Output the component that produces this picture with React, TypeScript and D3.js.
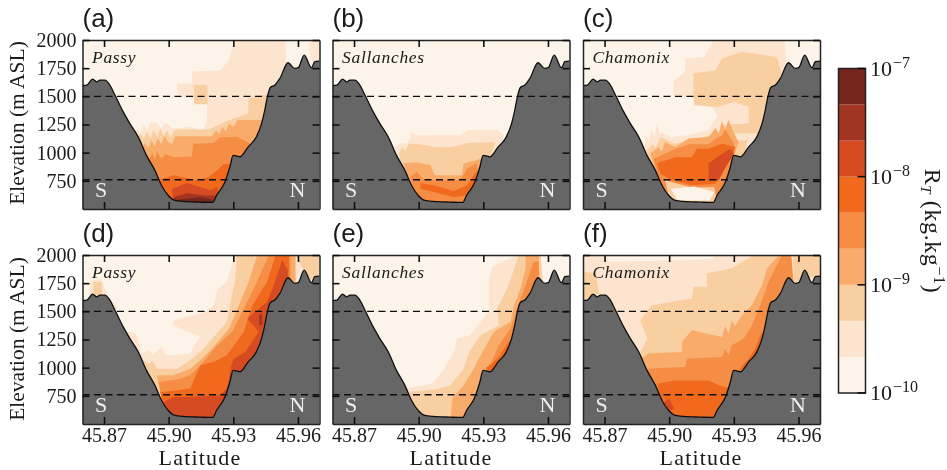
import React, { useRef, useEffect } from "react";
import * as d3 from "d3";

const SERIF = "'Liberation Serif', serif";

// R_T classes, one colour per third of a decade
const levelColors = ["#fdf4e9", "#fce4ce", "#f9cfa2", "#f9ac6b", "#f68d45", "#f0691f", "#d74b23", "#a13421", "#76281a"];
const latTicks = [45.87, 45.9, 45.93, 45.96];
const elevTicks = [750, 1000, 1250, 1500, 1750, 2000];
const dashedElevs = [1500, 760];
const cbarTicks = [-10, -9, -8, -7];

// valley floor and walls along the cross section [lat, elevation]
const terrain = [
  [45.86, 1596], [45.862, 1600], [45.8647, 1653], [45.8666, 1629], [45.8681, 1644], [45.8704, 1644],
  [45.8724, 1608], [45.8751, 1510], [45.8789, 1362], [45.882, 1258], [45.8859, 1139], [45.8897, 976],
  [45.8936, 843], [45.8967, 709], [45.8998, 620], [45.9029, 576], [45.9067, 567], [45.9145, 561],
  [45.9204, 558], [45.9222, 620], [45.9261, 739], [45.9284, 873], [45.9299, 976], [45.9318, 970],
  [45.933, 962], [45.9369, 1051], [45.9407, 1140], [45.9431, 1258], [45.9446, 1377], [45.9458, 1496],
  [45.9472, 1579], [45.9493, 1600], [45.9516, 1659], [45.9554, 1798], [45.9585, 1748], [45.9601, 1754],
  [45.9629, 1866], [45.9663, 1754], [45.9678, 1807], [45.97, 1813],
];

// painted in order, the terrain then covers whatever runs under the ground
const layersA = [
  [1, [[45.9302, 2000], [45.9542, 2000], [45.955, 1640], [45.9457, 1170], [45.9302, 520], [45.8992, 520], [45.8837, 1110], [45.8855, 1230], [45.8866, 1175], [45.8884, 1250], [45.8898, 1200], [45.8915, 1270], [45.8946, 1260], [45.8965, 1215], [45.8985, 1265], [45.9023, 1210], [45.91, 1230], [45.9162, 1200], [45.9178, 1290], [45.9178, 1430], [45.9039, 1525], [45.9039, 1615], [45.9108, 1615], [45.9108, 1720], [45.924, 1730], [45.9279, 1820]]],
  [1, [[45.965, 2000], [45.97, 2000], [45.97, 1790], [45.9659, 1820]]],
  [2, [[45.8852, 1110], [45.8868, 1170], [45.8884, 1120], [45.8899, 1190], [45.8915, 1130], [45.893, 1200], [45.8946, 1140], [45.8961, 1215], [45.8977, 1150], [45.8992, 1195], [45.9008, 1140], [45.9031, 1205], [45.9186, 1205], [45.927, 1280], [45.937, 1350], [45.937, 1480], [45.947, 1525], [45.9488, 1170], [45.9302, 520], [45.8992, 520]]],
  [2, [[45.9118, 1600], [45.918, 1600], [45.918, 1430], [45.9118, 1430]]],
  [3, [[45.8876, 1035], [45.889, 1090], [45.8905, 1040], [45.892, 1110], [45.8935, 1060], [45.895, 1130], [45.8965, 1075], [45.898, 1150], [45.9, 1090], [45.9015, 1080], [45.9031, 1145], [45.92, 1145], [45.922, 1200], [45.9235, 1165], [45.925, 1230], [45.9265, 1190], [45.928, 1260], [45.93, 1225], [45.932, 1290], [45.9442, 1290], [45.9457, 520], [45.8992, 520]]],
  [4, [[45.8899, 905], [45.8925, 1000], [45.8935, 940], [45.8946, 1015], [45.8965, 945], [45.8985, 985], [45.9023, 960], [45.9108, 965], [45.9113, 1080], [45.9209, 1085], [45.924, 1140], [45.9318, 1140], [45.938, 1080], [45.9333, 520], [45.8992, 520]]],
  [5, [[45.8953, 755], [45.9023, 800], [45.9132, 755], [45.9186, 785], [45.9225, 845], [45.9256, 900], [45.9287, 900], [45.9302, 520], [45.8992, 520]]],
  [6, [[45.9015, 680], [45.9085, 730], [45.9147, 695], [45.9194, 665], [45.9225, 695], [45.924, 520], [45.9023, 520]]],
  [7, [[45.9023, 605], [45.9085, 640], [45.9163, 620], [45.9225, 620], [45.9225, 520], [45.9023, 520]]],
  [8, [[45.9031, 580], [45.9147, 605], [45.9209, 580], [45.9209, 520], [45.9031, 520]]],
];

const layersB = [
  [1, [[45.8884, 1050], [45.8925, 1090], [45.8945, 1075], [45.8961, 1125], [45.8967, 1195], [45.8985, 1150], [45.9015, 1155], [45.9193, 1155], [45.9225, 1200], [45.9364, 1205], [45.9395, 1155], [45.938, 1020], [45.9302, 520], [45.8992, 520]]],
  [2, [[45.8907, 990], [45.8925, 1050], [45.8938, 1010], [45.8952, 1080], [45.9008, 1075], [45.9077, 1050], [45.9155, 1050], [45.9225, 1085], [45.9356, 1095], [45.9333, 960], [45.9302, 520], [45.8992, 520]]],
  [3, [[45.893, 905], [45.8992, 915], [45.9054, 890], [45.9076, 800], [45.92, 800], [45.9209, 905], [45.9302, 950], [45.9302, 520], [45.8992, 520]]],
  [4, [[45.8961, 785], [45.8992, 830], [45.9023, 760], [45.9147, 755], [45.9193, 755], [45.9225, 860], [45.927, 905], [45.9302, 520], [45.8992, 520]]],
  [5, [[45.9008, 730], [45.907, 710], [45.9163, 660], [45.9225, 710], [45.926, 815], [45.928, 845], [45.927, 665], [45.9225, 620], [45.9163, 605], [45.907, 650], [45.9008, 680]]],
];

const layersC = [
  [1, [[45.9209, 2000], [45.9535, 2000], [45.955, 1640], [45.9488, 1170], [45.9302, 520], [45.8992, 520], [45.8881, 1035], [45.8895, 1160], [45.8905, 1090], [45.892, 1220], [45.893, 1130], [45.8945, 1260], [45.8955, 1150], [45.8961, 1185], [45.9008, 1140], [45.9085, 1155], [45.918, 1200], [45.9225, 1330], [45.9198, 1405], [45.9097, 1495], [45.902, 1510], [45.902, 1630], [45.9074, 1720], [45.9074, 1835], [45.9162, 1850]]],
  [2, [[45.9113, 1705], [45.9214, 1730], [45.9245, 1835], [45.9338, 1895], [45.95, 1850], [45.9535, 1615], [45.9472, 1375], [45.9442, 1170], [45.924, 1170], [45.9245, 1245], [45.9369, 1260], [45.9369, 1405], [45.9302, 1450], [45.9225, 1405], [45.9116, 1420], [45.9113, 1510]]],
  [2, [[45.8884, 990], [45.8923, 1080], [45.8935, 1040], [45.8961, 1140], [45.9023, 1080], [45.9077, 1095], [45.9162, 1140], [45.924, 1185], [45.9302, 1110], [45.9364, 1110], [45.9333, 830], [45.9302, 520], [45.8992, 520]]],
  [3, [[45.8912, 990], [45.895, 1050], [45.8965, 1010], [45.8981, 1095], [45.9028, 1050], [45.909, 1125], [45.9183, 1140], [45.9215, 1220], [45.923, 1170], [45.9245, 1280], [45.926, 1200], [45.9275, 1290], [45.9291, 1215], [45.9322, 1095], [45.93, 960], [45.9302, 520], [45.8992, 520]]],
  [4, [[45.8927, 945], [45.9012, 1020], [45.909, 1075], [45.9183, 1075], [45.922, 1130], [45.9245, 1155], [45.926, 1210], [45.9302, 1075], [45.9302, 960], [45.9287, 520], [45.8992, 520]]],
  [5, [[45.8943, 905], [45.9028, 960], [45.9105, 960], [45.9129, 1035], [45.9183, 1035], [45.9245, 1080], [45.9307, 1050], [45.9291, 960], [45.9245, 815], [45.9214, 725], [45.9105, 710], [45.9012, 755], [45.8958, 815]]],
  [6, [[45.9183, 905], [45.9222, 960], [45.9284, 1035], [45.93, 990], [45.9253, 845], [45.923, 755], [45.9183, 755]]],
  [2, [[45.8981, 755], [45.9105, 690], [45.9209, 695], [45.9225, 520], [45.9008, 520]]],
  [0, [[45.9008, 680], [45.9116, 700], [45.9209, 650], [45.9186, 575], [45.9039, 575]]],
];

const layersD = [
  [1, [[45.9307, 2000], [45.97, 2000], [45.97, 1790], [45.958, 1675], [45.9488, 1020], [45.9302, 490], [45.8992, 490], [45.8868, 1020], [45.8876, 1125], [45.891, 1160], [45.8925, 1115], [45.8946, 1145], [45.8965, 1185], [45.8985, 1120], [45.9008, 1110], [45.91, 1125], [45.9124, 1215], [45.9147, 1275], [45.9085, 1320], [45.9023, 1375], [45.9023, 1420], [45.9163, 1490], [45.9209, 1555], [45.9225, 1690], [45.9271, 1763]]],
  [1, [[45.8636, 1770], [45.8686, 1790], [45.8718, 1640], [45.8765, 1520], [45.8735, 1520], [45.868, 1640], [45.8634, 1640]]],
  [1, [[45.879, 1330], [45.8849, 1300], [45.8884, 1080], [45.882, 1080]]],
  [2, [[45.8651, 1760], [45.869, 1760], [45.869, 1640], [45.8651, 1640]]],
  [2, [[45.9589, 2000], [45.9697, 2000], [45.9697, 1822], [45.9659, 1780], [45.9622, 1880]]],
  [2, [[45.9317, 2000], [45.958, 2000], [45.958, 1675], [45.9488, 1020], [45.9302, 490], [45.8992, 490], [45.8876, 1080], [45.8905, 1030], [45.8925, 1060], [45.8946, 990], [45.9039, 990], [45.91, 1065], [45.9163, 1170], [45.9209, 1273], [45.927, 1407], [45.9287, 1585], [45.9308, 1763]]],
  [3, [[45.9411, 2000], [45.9589, 2000], [45.9589, 1675], [45.9488, 1020], [45.9302, 490], [45.8992, 490], [45.8946, 932], [45.9023, 932], [45.91, 990], [45.9163, 1095], [45.9209, 1185], [45.928, 1347], [45.9333, 1585], [45.9371, 1763]]],
  [4, [[45.9465, 2000], [45.9566, 2000], [45.9566, 1703], [45.9488, 1020], [45.9302, 490], [45.8992, 490], [45.8953, 873], [45.9039, 896], [45.91, 932], [45.9147, 1021], [45.9225, 1199], [45.9295, 1318], [45.9349, 1525], [45.9403, 1733]]],
  [5, [[45.9496, 2000], [45.9558, 2000], [45.9558, 1700], [45.9488, 1020], [45.9302, 490], [45.8992, 490], [45.8961, 784], [45.9039, 799], [45.91, 814], [45.9147, 1021], [45.9209, 1051], [45.927, 1110], [45.9349, 1318], [45.9388, 1555], [45.9457, 1763]]],
  [6, [[45.9527, 1955], [45.9553, 1866], [45.955, 1674], [45.9488, 1020], [45.9302, 490], [45.8992, 490], [45.8977, 695], [45.9023, 740], [45.91, 740], [45.9233, 754], [45.9271, 814], [45.9287, 992], [45.9302, 1080], [45.9356, 1140], [45.9418, 1318], [45.9365, 1436], [45.9457, 1585], [45.9488, 1733]]],
  [7, [[45.9418, 1466], [45.9434, 1480], [45.9434, 1377], [45.9422, 1377]]],
];

const layersE = [
  [1, [[45.9457, 2000], [45.9566, 2000], [45.958, 1675], [45.9488, 1020], [45.9302, 490], [45.8992, 490], [45.8938, 814], [45.9062, 858], [45.9108, 962], [45.9163, 1140], [45.9178, 1258], [45.924, 1288], [45.9287, 1407], [45.9325, 1496], [45.9325, 1763], [45.9341, 1896]]],
  [2, [[45.9465, 2000], [45.9566, 2000], [45.958, 1675], [45.9488, 1020], [45.9302, 490], [45.8992, 490], [45.8958, 784], [45.9085, 808], [45.9147, 843], [45.9209, 992], [45.9233, 1140], [45.9287, 1288], [45.9372, 1377], [45.9364, 1525], [45.9411, 1703], [45.9449, 1911]]],
  [3, [[45.9496, 2000], [45.9558, 2000], [45.9558, 1675], [45.9488, 1020], [45.9302, 490], [45.9147, 490], [45.9155, 724], [45.9209, 843], [45.9256, 992], [45.9295, 1140], [45.9349, 1318], [45.9426, 1407], [45.9442, 1555], [45.9473, 1703], [45.9496, 1881]]],
  [4, [[45.9533, 1940], [45.9558, 1940], [45.9558, 1674], [45.9488, 1020], [45.9302, 490], [45.9271, 754], [45.9287, 873], [45.9325, 992], [45.9372, 1199], [45.9426, 1347], [45.9457, 1525], [45.9496, 1733]]],
  [5, [[45.9465, 1377], [45.948, 1100], [45.9333, 962], [45.931, 992], [45.9372, 1095], [45.9418, 1229]]],
];

const layersF = [
  [1, [[45.86, 2000], [45.97, 2000], [45.97, 500], [45.86, 500]]],
  [0, [[45.8707, 1990], [45.9209, 1990], [45.9209, 1965], [45.8948, 1950], [45.8717, 1940]]],
  [2, [[45.8605, 1852], [45.8659, 1837], [45.8674, 1659], [45.8605, 1600]]],
  [2, [[45.9574, 2000], [45.97, 2000], [45.97, 1822], [45.958, 1760]]],
  [2, [[45.8845, 1065], [45.8899, 1258], [45.8865, 1421], [45.892, 1555], [45.9105, 1614], [45.9113, 1718], [45.9175, 1718], [45.9175, 1837], [45.9287, 1881], [45.9395, 2000], [45.9566, 2000], [45.958, 1675], [45.9488, 1020], [45.9302, 490], [45.8992, 490]]],
  [3, [[45.8868, 1080], [45.8904, 1125], [45.9059, 1140], [45.9059, 1229], [45.9105, 1332], [45.9245, 1273], [45.926, 1370], [45.9275, 1300], [45.9291, 1420], [45.9305, 1370], [45.9338, 1466], [45.9384, 1555], [45.9431, 1733], [45.9454, 1881], [45.9508, 2000], [45.9566, 2000], [45.958, 1675], [45.9488, 1020], [45.9302, 490], [45.8992, 490]]],
  [4, [[45.8896, 991], [45.9074, 1006], [45.9082, 1080], [45.9245, 1095], [45.926, 1165], [45.9275, 1110], [45.9291, 1200], [45.9346, 1258], [45.9384, 1377], [45.9423, 1555], [45.9461, 1763], [45.9523, 2000], [45.9566, 2000], [45.958, 1675], [45.9488, 1020], [45.9302, 490], [45.8992, 490]]],
  [5, [[45.8943, 858], [45.9028, 887], [45.9183, 887], [45.923, 843], [45.9287, 814], [45.9302, 490], [45.8992, 490]]],
  [5, [[45.9423, 1288], [45.9399, 1169], [45.9368, 1080], [45.9322, 977], [45.9369, 1000], [45.9488, 1100], [45.9457, 1377]]],
  [6, [[45.9, 724], [45.9023, 635], [45.8992, 605], [45.8977, 695]]],
];

const panelW = 237;
const panelH = 169;
const panels = [
  { tag: "(a)", site: "Passy", layers: layersA, left: 82.5, top: 40, showX: false, showY: true },
  { tag: "(b)", site: "Sallanches", layers: layersB, left: 332.5, top: 40, showX: false, showY: false },
  { tag: "(c)", site: "Chamonix", layers: layersC, left: 583, top: 40, showX: false, showY: false },
  { tag: "(d)", site: "Passy", layers: layersD, left: 82.5, top: 255, showX: true, showY: true },
  { tag: "(e)", site: "Sallanches", layers: layersE, left: 332.5, top: 255, showX: true, showY: false },
  { tag: "(f)", site: "Chamonix", layers: layersF, left: 583, top: 255, showX: true, showY: false },
];

const x = d3.scaleLinear().domain([45.86, 45.97]).range([0, panelW]);
const y = d3.scaleLinear().domain([500, 2000]).range([panelH, 0]);
const polygon = d3.line().x((d) => x(d[0])).y((d) => y(d[1]));
const ground = d3.area().x((d) => x(d[0])).y0(panelH).y1((d) => y(d[1])).curve(d3.curveMonotoneX);
const groundLine = d3.line().x((d) => x(d[0])).y((d) => y(d[1])).curve(d3.curveMonotoneX);

function styleAxis(g) {
  g.selectAll("path").attr("stroke", "#222").attr("stroke-width", 1.5);
  g.selectAll("line").attr("stroke", "#111").attr("stroke-width", 1.6);
  g.selectAll("text").attr("fill", "#1a1a1a").style("font-family", SERIF).style("font-size", "20px");
}

function Panel({ p, index }) {
  const axesRef = useRef();
  useEffect(() => {
    const root = d3.select(axesRef.current);
    root.selectAll("*").remove();
    const fmt = (show) => (show ? (v) => d3.format(".2f")(v) : () => "");
    root.append("g").attr("transform", `translate(0,${panelH})`)
      .call(d3.axisBottom(x).tickValues(latTicks).tickSizeInner(-7).tickSizeOuter(0).tickPadding(4).tickFormat(fmt(p.showX)))
      .call(styleAxis);
    root.append("g")
      .call(d3.axisTop(x).tickValues(latTicks).tickSizeInner(-7).tickSizeOuter(0).tickFormat(() => ""))
      .call(styleAxis);
    root.append("g")
      .call(d3.axisLeft(y).tickValues(elevTicks).tickSizeInner(-7).tickSizeOuter(0).tickPadding(6).tickFormat(p.showY ? (v) => String(v) : () => ""))
      .call(styleAxis);
    root.append("g").attr("transform", `translate(${panelW},0)`)
      .call(d3.axisRight(y).tickValues(elevTicks).tickSizeInner(-7).tickSizeOuter(0).tickFormat(() => ""))
      .call(styleAxis);
  }, [p]);
  const clipId = `clip-${index}`;
  return (
    <g transform={`translate(${p.left},${p.top})`}>
      <clipPath id={clipId}>
        <rect width={panelW} height={panelH} />
      </clipPath>
      <g clipPath={`url(#${clipId})`}>
        <rect width={panelW} height={panelH} fill={levelColors[0]} />
        {p.layers.map(([level, pts], i) => (
          <path key={i} d={polygon(pts) + "Z"} fill={levelColors[level]} />
        ))}
        <path d={ground(terrain)} fill="#666666" />
        <path d={groundLine(terrain)} fill="none" stroke="#111" strokeWidth={1.3} />
        {dashedElevs.map((e) => (
          <line key={e} x1={0} x2={panelW} y1={y(e)} y2={y(e)} stroke="#111" strokeWidth={1.4} strokeDasharray="7 4.5" />
        ))}
      </g>
      <g ref={axesRef} />
      <text x={0} y={-13} fontFamily="'Liberation Sans', sans-serif" fontSize={26} fill="#1a1a1a">{p.tag}</text>
      <text x={9.5} y={23} fontFamily={SERIF} fontStyle="italic" fontSize={17.5} letterSpacing={0.7} fill="#1a1a1a">{p.site}</text>
      <text x={18.5} y={157} fontFamily={SERIF} fontSize={22} fill="#eee" textAnchor="middle">S</text>
      <text x={215} y={157} fontFamily={SERIF} fontSize={22} fill="#eee" textAnchor="middle">N</text>
    </g>
  );
}

function Colorbar() {
  const left = 838.5;
  const width = 27;
  const cy = d3.scaleLinear().domain([-10, -7]).range([393, 68.5]);
  const steps = d3.range(levelColors.length);
  return (
    <g>
      {steps.map((i) => (
        <rect key={i} x={left} width={width} y={cy(-10 + (i + 1) / 3)} height={cy(-10 + i / 3) - cy(-10 + (i + 1) / 3)} fill={levelColors[i]} />
      ))}
      <rect x={left} y={68.5} width={width} height={324.5} fill="none" stroke="#222" strokeWidth={1.5} />
      {cbarTicks.map((t) => (
        <g key={t}>
          <line x1={left + width - 8} x2={left + width} y1={cy(t)} y2={cy(t)} stroke="#111" strokeWidth={1.6} />
          <text x={870} y={cy(t) + 7} fontFamily={SERIF} fontSize={22} fill="#1a1a1a">
            10<tspan dy={-8} dx={1} fontSize={16}>{`\u2212${Math.abs(t)}`}</tspan>
          </text>
        </g>
      ))}
      <text transform="translate(925,231) rotate(90)" textAnchor="middle" fontFamily={SERIF} fontSize={24} letterSpacing={0.6} fill="#1a1a1a">
        R<tspan dy={4} fontSize={15} fontStyle="italic">T</tspan><tspan dy={-4}> (kg.kg</tspan><tspan dy={-9} fontSize={16}>{"\u22121"}</tspan><tspan dy={9}>)</tspan>
      </text>
    </g>
  );
}

export default function App() {
  return (
    <svg width={947} height={470} style={{ position: "absolute", left: 0, top: 0, background: "#fff" }}>
      <defs>
        <filter id="soft" x="0" y="0" width="100%" height="100%">
          <feGaussianBlur stdDeviation={0.4} />
        </filter>
      </defs>
      <g filter="url(#soft)">
        {panels.map((p, i) => (
          <Panel key={p.tag} p={p} index={i} />
        ))}
        {[123, 339].map((cy) => (
          <text key={cy} transform={`translate(24,${cy}) rotate(-90)`} textAnchor="middle" fontFamily={SERIF} fontSize={21.5} fill="#1a1a1a">
            Elevation (m ASL)
          </text>
        ))}
        {[200, 451, 701].map((cx) => (
          <text key={cx} x={cx} y={465} textAnchor="middle" fontFamily={SERIF} fontSize={22} letterSpacing={1.2} fill="#1a1a1a">
            Latitude
          </text>
        ))}
        <Colorbar />
      </g>
    </svg>
  );
}
